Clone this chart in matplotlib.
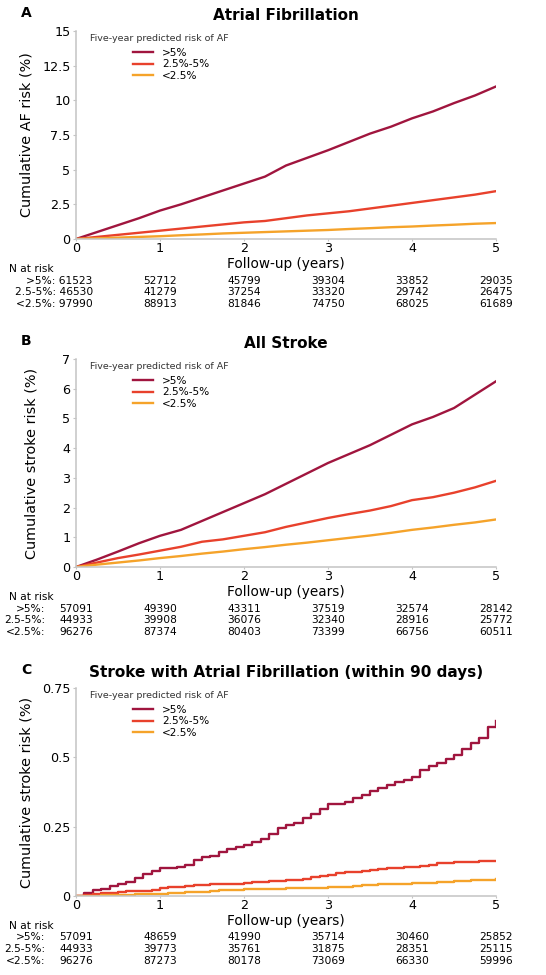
import numpy as np
import matplotlib
matplotlib.use("Agg")
import matplotlib.pyplot as plt

# groups (five-year predicted risk of AF)
groups = [">5%", "2.5%-5%", "<2.5%"]
row_labels = [">5%:", "2.5-5%:", "<2.5%:"]
colors = ["#a0153e", "#e8412c", "#f5a32a"]

# Panel A - Atrial fibrillation (cumulative %)
t_a = [0, 0.25, 0.5, 0.75, 1, 1.25, 1.5, 1.75, 2, 2.25, 2.5, 2.75, 3, 3.25, 3.5, 3.75, 4, 4.25, 4.5, 4.75, 5]
af_high = [0, 0.5, 1.0, 1.5, 2.05, 2.5, 3.0, 3.5, 4.0, 4.5, 5.3, 5.85, 6.4, 7.0, 7.6, 8.1, 8.7, 9.2, 9.8, 10.35, 11.0]
af_mid = [0, 0.15, 0.3, 0.45, 0.6, 0.75, 0.9, 1.05, 1.2, 1.3, 1.5, 1.7, 1.85, 2.0, 2.2, 2.4, 2.6, 2.8, 3.0, 3.2, 3.45]
af_low = [0, 0.05, 0.1, 0.15, 0.2, 0.27, 0.33, 0.4, 0.45, 0.5, 0.55, 0.6, 0.65, 0.72, 0.78, 0.85, 0.9, 0.97, 1.03, 1.1, 1.15]
risk_a = [[61523, 52712, 45799, 39304, 33852, 29035],
          [46530, 41279, 37254, 33320, 29742, 26475],
          [97990, 88913, 81846, 74750, 68025, 61689]]

# Panel B - All stroke
t_b = [0, 0.25, 0.5, 0.75, 1, 1.25, 1.5, 1.75, 2, 2.25, 2.5, 2.75, 3, 3.25, 3.5, 3.75, 4, 4.25, 4.5, 4.75, 5]
st_high = [0, 0.25, 0.52, 0.8, 1.05, 1.25, 1.55, 1.85, 2.15, 2.45, 2.8, 3.15, 3.5, 3.8, 4.1, 4.45, 4.8, 5.05, 5.35, 5.8, 6.25]
st_mid = [0, 0.15, 0.3, 0.42, 0.55, 0.68, 0.85, 0.93, 1.05, 1.17, 1.35, 1.5, 1.65, 1.78, 1.9, 2.05, 2.25, 2.35, 2.5, 2.68, 2.9]
st_low = [0, 0.08, 0.15, 0.22, 0.3, 0.37, 0.45, 0.52, 0.6, 0.67, 0.75, 0.82, 0.9, 0.98, 1.06, 1.15, 1.25, 1.33, 1.42, 1.5, 1.6]
risk_b = [[57091, 49390, 43311, 37519, 32574, 28142],
          [44933, 39908, 36076, 32340, 28916, 25772],
          [96276, 87374, 80403, 73399, 66756, 60511]]

# Panel C - Stroke with AF within 90 days
t_c = [0, 0.1, 0.2, 0.3, 0.4, 0.5, 0.6, 0.7, 0.8, 0.9, 1.0, 1.1, 1.2, 1.3, 1.4, 1.5, 1.6, 1.7, 1.8, 1.9, 2.0,
       2.1, 2.2, 2.3, 2.4, 2.5, 2.6, 2.7, 2.8, 2.9, 3.0, 3.1, 3.2, 3.3, 3.4, 3.5, 3.6, 3.7, 3.8, 3.9, 4.0,
       4.1, 4.2, 4.3, 4.4, 4.5, 4.6, 4.7, 4.8, 4.9, 5.0]
c_high = [0, 0.01, 0.02, 0.025, 0.035, 0.045, 0.05, 0.065, 0.08, 0.09, 0.1, 0.1, 0.105, 0.11, 0.13, 0.14, 0.145, 0.16, 0.17, 0.175, 0.185,
          0.195, 0.205, 0.225, 0.245, 0.255, 0.265, 0.28, 0.295, 0.315, 0.33, 0.33, 0.34, 0.355, 0.365, 0.38, 0.39, 0.4, 0.41, 0.42, 0.43,
          0.455, 0.47, 0.48, 0.495, 0.51, 0.53, 0.55, 0.57, 0.61, 0.63]
c_mid = [0, 0.003, 0.006, 0.01, 0.012, 0.016, 0.018, 0.018, 0.019, 0.022, 0.03, 0.032, 0.034, 0.036, 0.038, 0.04, 0.042, 0.043, 0.044, 0.045, 0.048,
         0.05, 0.052, 0.053, 0.055, 0.056, 0.058, 0.062, 0.068, 0.072, 0.074, 0.082, 0.086, 0.088, 0.09, 0.094, 0.098, 0.1, 0.102, 0.104, 0.106,
         0.108, 0.11, 0.118, 0.12, 0.121, 0.122, 0.124, 0.126, 0.127, 0.128]
c_low = [0, 0.0, 0.001, 0.002, 0.003, 0.004, 0.005, 0.006, 0.007, 0.008, 0.009, 0.01, 0.011, 0.013, 0.015, 0.016, 0.018, 0.02, 0.022, 0.023, 0.024,
         0.025, 0.026, 0.027, 0.027, 0.028, 0.028, 0.029, 0.029, 0.03, 0.031, 0.032, 0.034, 0.036, 0.038, 0.04, 0.042, 0.043, 0.044, 0.045, 0.046,
         0.047, 0.048, 0.05, 0.052, 0.053, 0.055, 0.056, 0.057, 0.058, 0.06]
risk_c = [[57091, 48659, 41990, 35714, 30460, 25852],
          [44933, 39773, 35761, 31875, 28351, 25115],
          [96276, 87273, 80178, 73069, 66330, 59996]]

year_ticks = [0, 1, 2, 3, 4, 5]

panels = [
    dict(letter="A", title="Atrial Fibrillation", ylabel="Cumulative AF risk (%)",
         t=t_a, series=[af_high, af_mid, af_low], risk=risk_a,
         yticks=[0, 2.5, 5, 7.5, 10, 12.5, 15], yticklabels=["0", "2.5", "5", "7.5", "10", "12.5", "15"],
         ymax=15, step=False, inline=True, ylx=-0.1),
    dict(letter="B", title="All Stroke", ylabel="Cumulative stroke risk (%)",
         t=t_b, series=[st_high, st_mid, st_low], risk=risk_b,
         yticks=[0, 1, 2, 3, 4, 5, 6, 7], yticklabels=["0", "1", "2", "3", "4", "5", "6", "7"],
         ymax=7, step=False, inline=False, ylx=-0.09),
    dict(letter="C", title="Stroke with Atrial Fibrillation (within 90 days)", ylabel="Cumulative stroke risk (%)",
         t=t_c, series=[c_high, c_mid, c_low], risk=risk_c,
         yticks=[0, 0.25, 0.5, 0.75], yticklabels=["0", "0.25", "0.5", "0.75"],
         ymax=0.75, step=True, inline=False, ylx=-0.1),
]

W, H = 546, 975
fig = plt.figure(figsize=(W / 100, H / 100), dpi=100)
fig.patch.set_facecolor("white")

ax_left, ax_right = 76, 496
ax_tops = [31, 359, 688]
ax_h = 208
spine_col = "#c4c4c4"

for p, top in zip(panels, ax_tops):
    ax = fig.add_axes([ax_left / W, 1 - (top + ax_h) / H, (ax_right - ax_left) / W, ax_h / H])
    for s, col, lab in zip(p["series"], colors, groups):
        ax.plot(p["t"], s, color=col, lw=1.7, label=lab,
                drawstyle="steps-post" if p["step"] else "default")
    ax.set_xlim(0, 5)
    ax.set_ylim(0, p["ymax"])
    ax.set_xticks(year_ticks)
    ax.set_yticks(p["yticks"])
    ax.set_yticklabels(p["yticklabels"])
    for sp in ["top", "right"]:
        ax.spines[sp].set_visible(False)
    for sp in ["left", "bottom"]:
        ax.spines[sp].set_color(spine_col)
        ax.spines[sp].set_linewidth(1.1)
    ax.tick_params(axis="x", length=1.5, pad=1, labelsize=9.2, color=spine_col)
    ax.tick_params(axis="y", length=2.5, pad=1.5, labelsize=9.2, color=spine_col)

    ax.set_xlabel("Follow-up (years)", fontsize=9.8)
    ax.xaxis.set_label_coords(0.5, -0.085)
    ax.set_ylabel(p["ylabel"], fontsize=10.4)
    ax.yaxis.set_label_coords(p["ylx"], 0.5)

    ax.set_title(p["title"], fontsize=11, fontweight="bold", pad=8)
    fig.text(26 / W, 1 - (top - 18) / H, p["letter"], fontsize=10, fontweight="bold",
             ha="center", va="center")

    # legend with a left title and indented entries
    ax.text(0.033, 1 - 7.5 / ax_h, "Five-year predicted risk of AF", transform=ax.transAxes,
            fontsize=6.8, ha="left", va="center", color="#333333")
    ax.legend(loc="upper left", bbox_to_anchor=(0.136, 1 - 17 / ax_h), frameon=False,
              fontsize=7.6, handlelength=1.9, handletextpad=0.85, labelspacing=0.12,
              borderpad=0, borderaxespad=0)

    # number at risk table
    tr = ax.get_xaxis_transform()
    ax.text(-0.80, -30 / ax_h, "N at risk", transform=tr, fontsize=7.7, ha="left", va="center")
    for i, (rl, row) in enumerate(zip(row_labels, p["risk"])):
        y = -(41.5 + 11.7 * i) / ax_h
        if p["inline"]:
            ax.text(0.2, y, f"{rl} {row[0]}", transform=tr, fontsize=7.7, ha="right", va="center")
        else:
            ax.text(-0.37, y, rl, transform=tr, fontsize=7.7, ha="right", va="center")
            ax.text(0, y, str(row[0]), transform=tr, fontsize=7.7, ha="center", va="center")
        for x, n in zip(year_ticks[1:], row[1:]):
            ax.text(x, y, str(n), transform=tr, fontsize=7.7, ha="center", va="center")

fig.savefig("out.png", dpi=100)
